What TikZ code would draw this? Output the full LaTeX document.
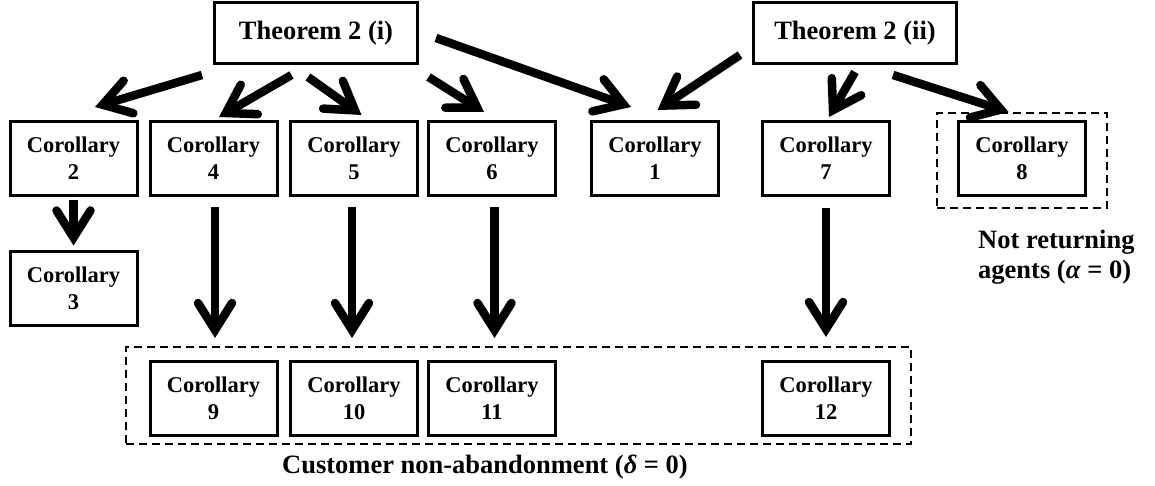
\documentclass[tikz,border=0pt]{standalone}
\usepackage{fontspec}
\setmainfont{Liberation Serif}
\usetikzlibrary{arrows.meta}
\begin{document}
\begin{tikzpicture}[x=1pt,y=-1pt,
  box/.style={draw, line width=3pt, minimum width=127pt, minimum height=74pt, inner sep=0pt, align=center, font=\fontsize{22.5}{27}\selectfont\bfseries},
  thm/.style={draw, line width=3pt, minimum width=203pt, minimum height=61pt, inner sep=0pt, font=\fontsize{26.5}{30}\selectfont\bfseries},
  grp/.style={draw, line width=2pt, dash pattern=on 8pt off 5pt, inner sep=0pt},
  arr/.style={line width=8.5pt, -{Straight Barb[length=27pt,width=34pt,line cap=round,line join=miter]}},
  lbl/.style={font=\fontsize{26.5}{30}\selectfont\bfseries, align=left, inner sep=0pt}]
\useasboundingbox (0,0) rectangle (1155,486);

% group frames
\node[grp, minimum width=785pt, minimum height=97pt] (gdelta) at (518.5,395.5) {};
\node[grp, minimum width=170pt, minimum height=95pt] (galpha) at (1022,160.5) {};

% theorems
\node[thm] (thmi) at (316,33) {Theorem 2 (i)};
\node[thm] (thmii) at (855,33) {Theorem 2 (ii)};

% first row
\node[box] (c2) at (73.5,158.5) {Corollary\\2};
\node[box] (c4) at (213.5,158.5) {Corollary\\4};
\node[box] (c5) at (354,158.5) {Corollary\\5};
\node[box] (c6) at (492,158.5) {Corollary\\6};
\node[box] (c1) at (655,158.5) {Corollary\\1};
\node[box] (c7) at (826,158.5) {Corollary\\7};
\node[box] (c8) at (1022,158.5) {Corollary\\8};

\node[box] (c3) at (73.5,288) {Corollary\\3};

% bottom row
\node[box] (c9) at (213.5,398.5) {Corollary\\9};
\node[box] (c10) at (354,398.5) {Corollary\\10};
\node[box] (c11) at (492,398.5) {Corollary\\11};
\node[box] (c12) at (826,398.5) {Corollary\\12};

% labels
\node[lbl, anchor=west] (lalpha) at (978,257) {Not returning\\agents (\textit{α} = 0)};
\node[lbl] (ldelta) at (485,467) {Customer non-abandonment (\textit{δ} = 0)};

% arrows from Theorem 2 (i)
\draw[arr] ([xshift=-11pt,yshift=-10pt]thmi.south west) -- ([xshift=21.5pt,yshift=13pt]c2.north);
\draw[arr] ([xshift=-24.5pt,yshift=-10pt]thmi.south) -- ([xshift=5.5pt,yshift=3pt]c4.north);
\draw[arr] ([xshift=-8pt,yshift=-12pt]thmi.south) -- ([xshift=7.5pt,yshift=5pt]c5.north);
\draw[arr] ([xshift=9.5pt,yshift=-12pt]thmi.south east) -- ([xshift=-8pt,yshift=8pt]c6.north);
\draw[arr] ([xshift=17pt,yshift=-5pt]thmi.east) -- ([xshift=-24pt,yshift=13pt]c1.north);

% arrows from Theorem 2 (ii)
\draw[arr] ([xshift=-12pt,yshift=10pt]thmii.south west) -- ([xshift=2.5pt,yshift=10pt]c1.north);
\draw[arr] ([xshift=0pt,yshift=-7pt]thmii.south) -- ([xshift=3pt,yshift=3pt]c7.north);
\draw[arr] ([xshift=38pt,yshift=-10pt]thmii.south) -- ([xshift=-13.5pt,yshift=8pt]c8.north);

% vertical arrows
\draw[arr] ([yshift=-3pt]c2.south) -- ([yshift=4pt]c3.north);
\draw[arr] ([xshift=1.5pt,yshift=-10pt]c4.south) -- ([xshift=1.5pt,yshift=22pt]c9.north);
\draw[arr] ([xshift=-2pt,yshift=-10pt]c5.south) -- ([xshift=-2pt,yshift=22pt]c10.north);
\draw[arr] ([xshift=2.5pt,yshift=-10pt]c6.south) -- ([xshift=2.5pt,yshift=22pt]c11.north);
\draw[arr] ([yshift=-11pt]c7.south) -- ([yshift=23pt]c12.north);
\end{tikzpicture}
\end{document}
